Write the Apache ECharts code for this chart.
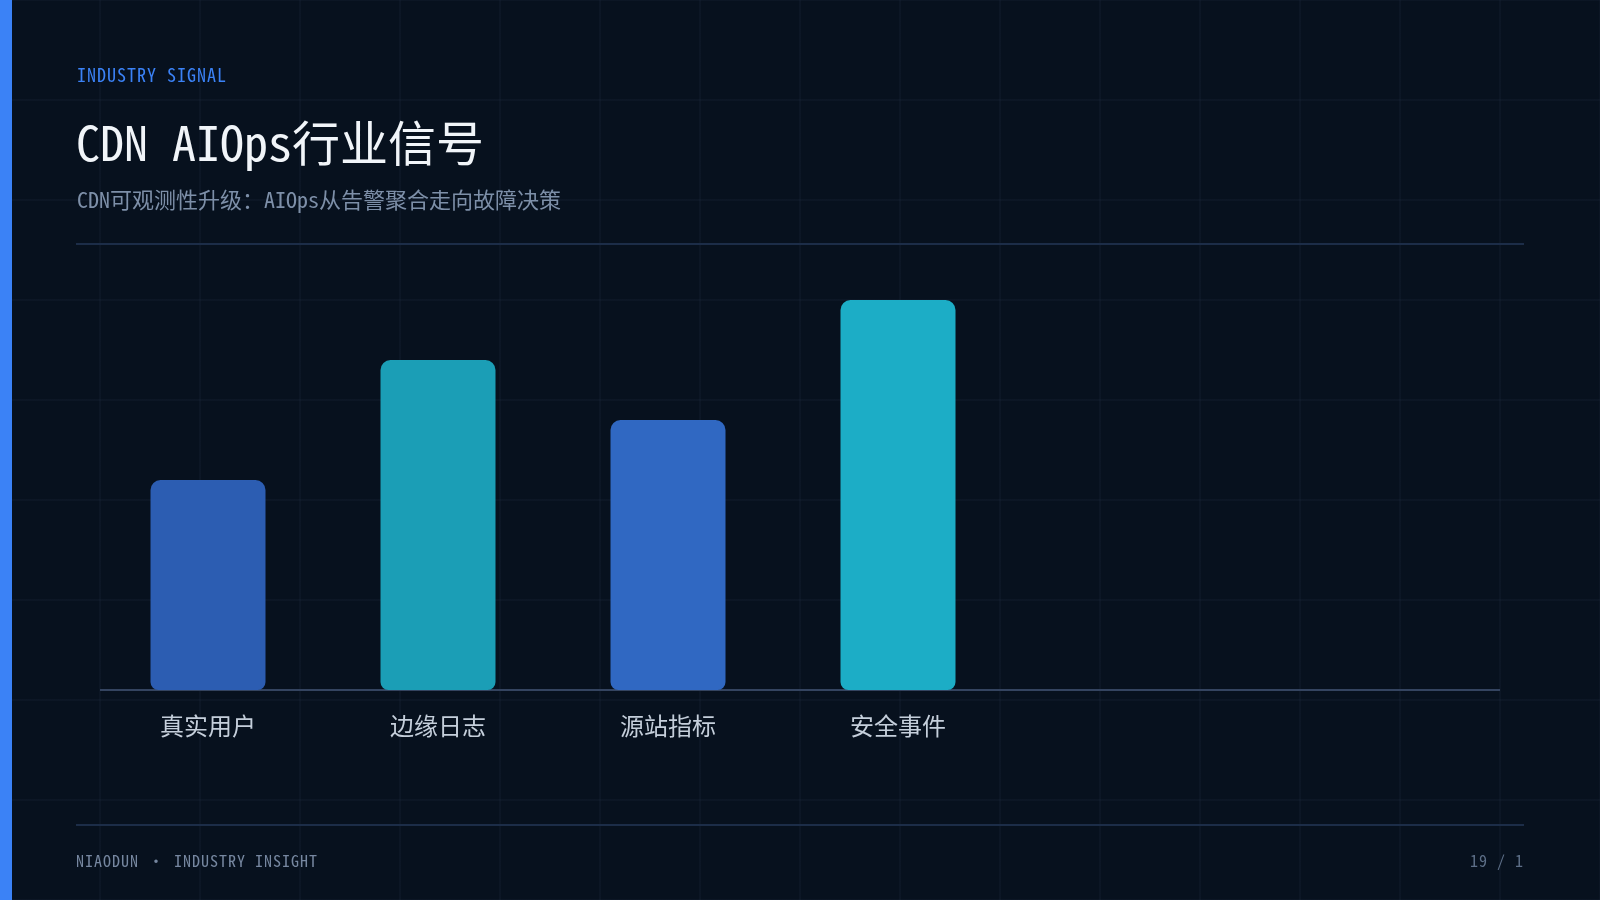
<!DOCTYPE html>
<html>
<head>
<meta charset="utf-8">
<script src="https://cdn.jsdelivr.net/npm/echarts@6/dist/echarts.min.js"></script>
<style>
  html, body { margin: 0; padding: 0; width: 1600px; height: 900px; overflow: hidden; background: #07111e; }
  body {
    position: relative;
    font-family: "Noto Sans Mono CJK SC", "Noto Sans CJK SC", monospace;
    background-color: #07111e;
    background-image:
      linear-gradient(to right, rgba(120,150,190,0.045) 2px, transparent 2px),
      linear-gradient(to bottom, rgba(120,150,190,0.045) 2px, transparent 2px);
    background-size: 100px 100px;
    background-position: -1px -1px;
  }
  #accent { position: absolute; left: 0; top: 0; width: 12px; height: 900px; background: #3b82f6; }
  .t { position: absolute; white-space: nowrap; }
  #kicker { left: 77px; top: 65px; font-size: 18px; line-height: 18px; color: #3b82f6; letter-spacing: 1px; }
  #title { left: 76px; top: 116px; font-size: 48px; line-height: 48px; color: #f1f5f9; font-weight: 300; }
  #subtitle { left: 77px; top: 187px; font-size: 22px; line-height: 22px; color: #7d8fa8; }
  .sep { position: absolute; left: 76px; width: 1448px; height: 2px; background: #1c2d48; }
  #footer { left: 76px; top: 852px; font-size: 16px; line-height: 16px; color: #7687a0; letter-spacing: 1px; }
  #page { right: 76px; top: 852px; font-size: 16px; line-height: 16px; color: #5d6f88; letter-spacing: 1px; }
  #chart { position: absolute; left: 0; top: 0; width: 1600px; height: 900px; }
</style>
</head>
<body>
<div id="accent"></div>
<div id="chart"></div>
<div class="t" id="kicker">INDUSTRY SIGNAL</div>
<div class="t" id="title">CDN AIOps行业信号</div>
<div class="t" id="subtitle">CDN可观测性升级：AIOps从告警聚合走向故障决策</div>
<div class="sep" style="top:243px"></div>
<div class="sep" style="top:824px"></div>
<div class="t" id="footer">NIAODUN · INDUSTRY INSIGHT</div>
<div class="t" id="page">19 / 1</div>
<script>
const categories = ["真实用户", "边缘日志", "源站指标", "安全事件"];
const values = [35, 55, 45, 65];
const barColors = ["#2c5db2", "#1b9eb6", "#3068c2", "#1cadc6"];

const chart = echarts.init(document.getElementById('chart'), null, { renderer: 'canvas' });
chart.setOption({
  backgroundColor: 'transparent',
  animation: false,
  grid: { left: 93, right: 127, top: 270, bottom: 210, containLabel: false },
  graphic: [{
    type: 'line', z: 1,
    shape: { x1: 100, y1: 690, x2: 1500, y2: 690 },
    style: { stroke: '#344460', lineWidth: 2 }
  }],
  xAxis: {
    type: 'category',
    data: categories,
    max: 5,
    boundaryGap: true,
    axisLine: { show: false },
    axisTick: { show: false },
    splitLine: { show: false },
    axisLabel: {
      color: '#c5cfdb',
      fontSize: 24,
      margin: 24,
      fontFamily: '"Noto Sans Mono CJK SC", "Noto Sans CJK SC", sans-serif'
    }
  },
  yAxis: {
    type: 'value', min: 0, max: 70, interval: 10,
    axisLine: { show: false }, axisTick: { show: false },
    axisLabel: { show: false }, splitLine: { show: false }
  },
  series: [{
    type: 'bar',
    barWidth: '50%',
    z: 2,
    data: values.map((v, i) => ({ value: v, itemStyle: { color: barColors[i] } })),
    itemStyle: { borderRadius: [10, 10, 8, 8] }
  }]
});
</script>
</body>
</html>
